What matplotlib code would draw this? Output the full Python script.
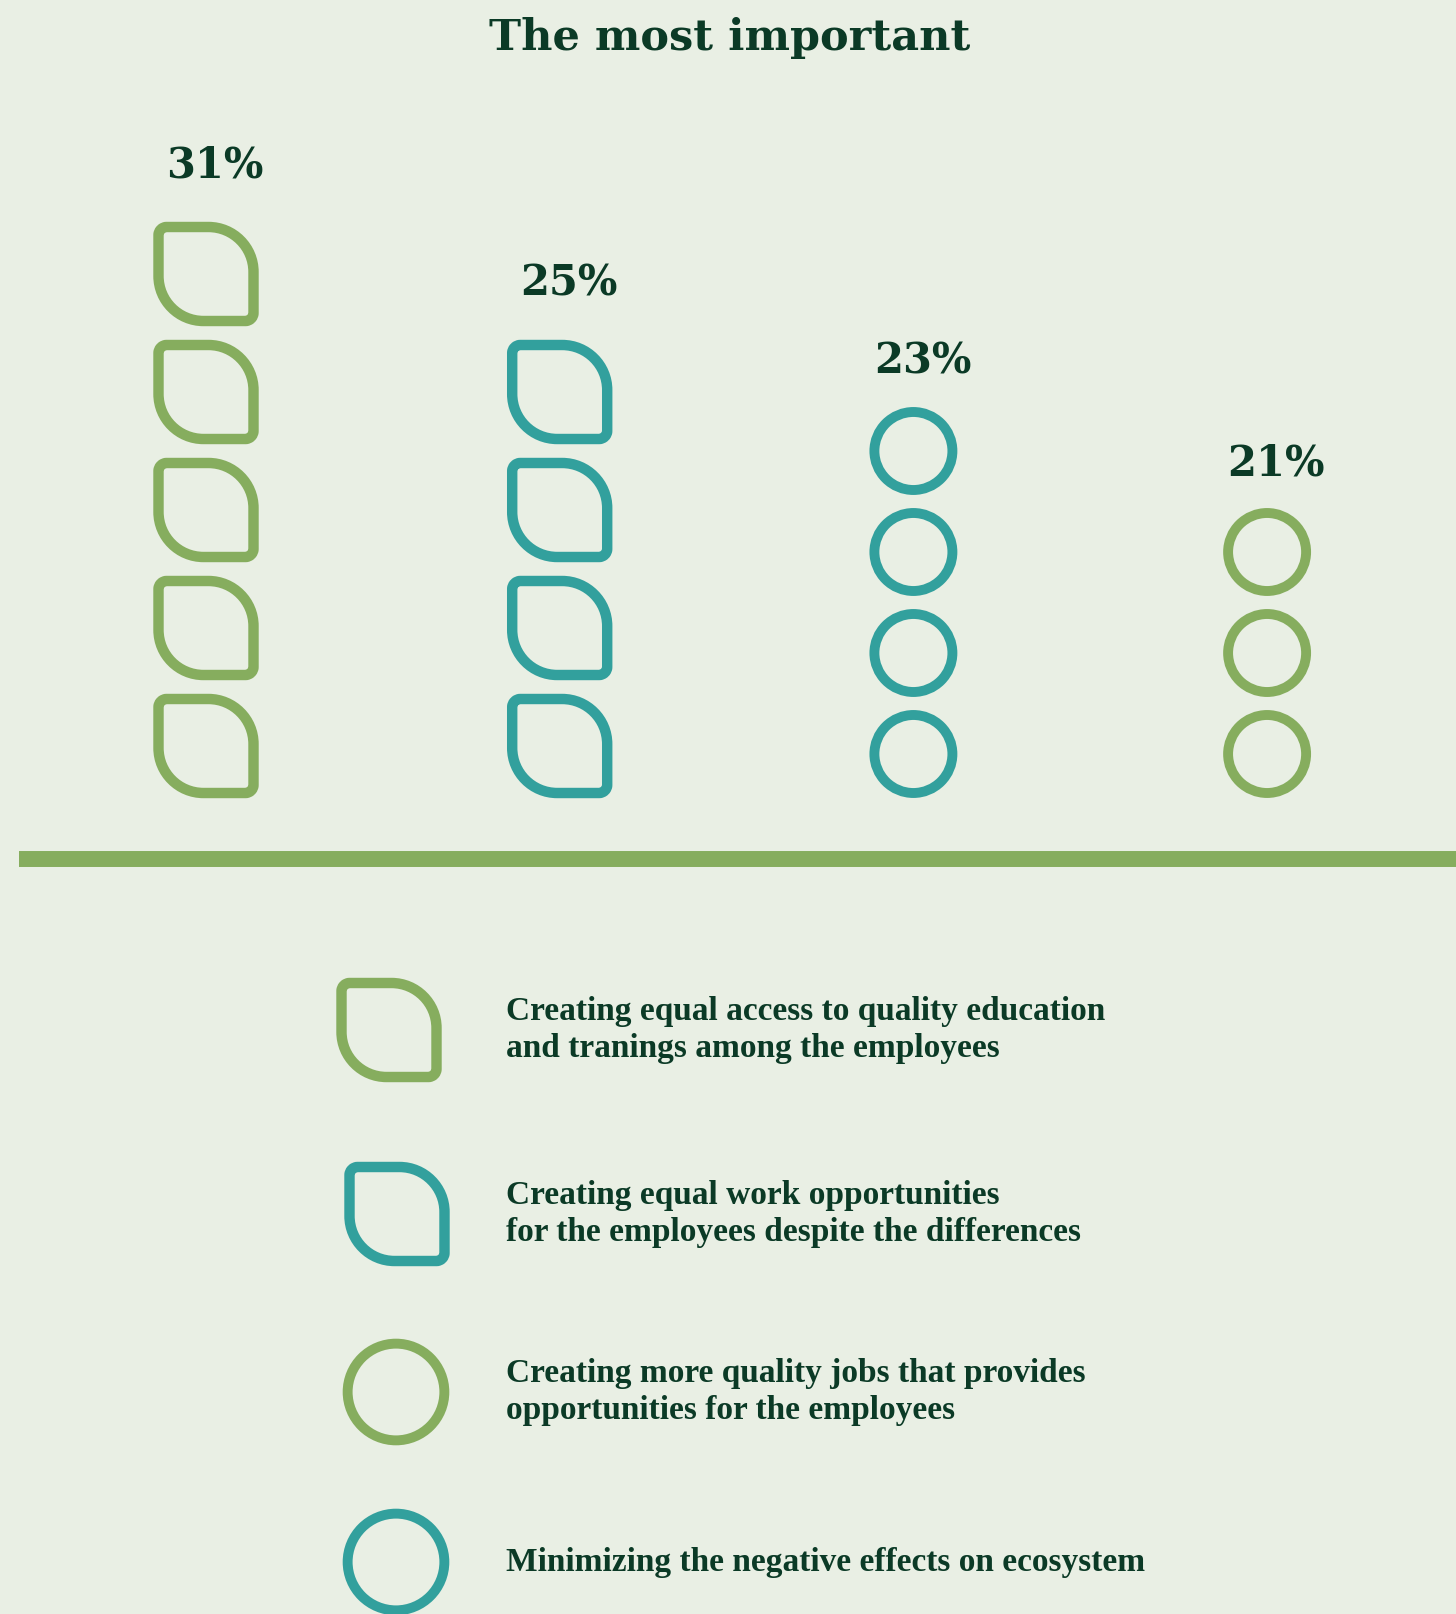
import numpy as np
import matplotlib
matplotlib.use("Agg")
import matplotlib.pyplot as plt
from matplotlib.path import Path
from matplotlib.patches import PathPatch, Circle

# ========================
# DATA
# ========================
title = "The most important"
percent = [31, 25, 23, 21]
icon_count = [5, 4, 4, 3]
shape = ["leaf", "leaf", "circle", "circle"]
colour = ["#86ad5e", "#32a09d", "#32a09d", "#86ad5e"]
legend_labels = [
    "Creating equal access to quality education\nand tranings among the employees",
    "Creating equal work opportunities\nfor the employees despite the differences",
    "Creating more quality jobs that provides\nopportunities for the employees",
    "Minimizing the negative effects on ecosystem",
]
legend_shape = ["leaf", "leaf", "circle", "circle"]
legend_colour = ["#86ad5e", "#32a09d", "#86ad5e", "#32a09d"]

# ========================
# STYLE / LAYOUT
# ========================
W, H = 1456, 1614
bg = "#e9efe4"
ink = "#0b3a26"
lw = 7.5
col_x0, col_step = 206, 353.7
base_y = 798
leaf_size, leaf_pitch = 94, 118
circ_r, circ_pitch = 39, 101
label_gap = {"leaf": 56, "circle": 45}
# legend rows (icon x, row centre y)
leg_x = [389, 397, 396, 396]
leg_y = [1030, 1214, 1392, 1562]
leg_text_x = 506

K = 0.5523


def leaf_path(cx, cy, w, h, rb=45, rs=8):
    x0, x1 = cx - w / 2, cx + w / 2
    y0, y1 = cy - h / 2, cy + h / 2
    verts, codes = [], []

    def arc(p, c, q):
        verts.extend([(p[0] + K * (c[0] - p[0]), p[1] + K * (c[1] - p[1])),
                      (q[0] + K * (c[0] - q[0]), q[1] + K * (c[1] - q[1])),
                      q])
        codes.extend([Path.CURVE4] * 3)

    verts.append((x0 + rs, y0)); codes.append(Path.MOVETO)
    verts.append((x1 - rb, y0)); codes.append(Path.LINETO)
    arc((x1 - rb, y0), (x1, y0), (x1, y0 + rb))
    verts.append((x1, y1 - rs)); codes.append(Path.LINETO)
    arc((x1, y1 - rs), (x1, y1), (x1 - rs, y1))
    verts.append((x0 + rb, y1)); codes.append(Path.LINETO)
    arc((x0 + rb, y1), (x0, y1), (x0, y1 - rb))
    verts.append((x0, y0 + rs)); codes.append(Path.LINETO)
    arc((x0, y0 + rs), (x0, y0), (x0 + rs, y0))
    verts.append((x0 + rs, y0)); codes.append(Path.CLOSEPOLY)
    return Path(verts, codes)


def draw_icon(ax, kind, cx, cy, c, scale=1.0):
    if kind == "leaf":
        s = leaf_size * scale
        ax.add_patch(PathPatch(leaf_path(cx, cy, s + 1, s), fill=False,
                               edgecolor=c, lw=lw, joinstyle="round"))
    else:
        ax.add_patch(Circle((cx, cy), circ_r * scale, fill=False,
                            edgecolor=c, lw=lw * 0.95))


fig = plt.figure(figsize=(W / 100, H / 100), dpi=100, facecolor=bg)
ax = fig.add_axes([0, 0, 1, 1])
ax.set_xlim(0, W)
ax.set_ylim(H, 0)
ax.set_facecolor(bg)
ax.set_axis_off()

ax.text(W / 2 + 2, 38, title, ha="center", va="center", fontsize=31,
        fontweight="bold", family="DejaVu Serif", color=ink)

for i, (p, n, kind, c) in enumerate(zip(percent, icon_count, shape, colour)):
    cx = col_x0 + i * col_step
    if kind == "leaf":
        half = leaf_size / 2 + 5
        pitch = leaf_pitch
    else:
        half = circ_r + 5
        pitch = circ_pitch
    for j in range(n):
        cy = base_y - half - j * pitch
        draw_icon(ax, kind, cx, cy, c)
    top = base_y - 2 * half - (n - 1) * pitch
    ax.text(cx + 9, top - label_gap[kind], f"{p}%", ha="center", va="center",
            fontsize=30, fontweight="bold", family="DejaVu Serif", color=ink)

ax.plot([19, W], [859, 859], color="#86ad5e", lw=11.5, solid_capstyle="butt")

for k, (lab, kind, c) in enumerate(zip(legend_labels, legend_shape, legend_colour)):
    cy = leg_y[k]
    draw_icon(ax, kind, leg_x[k], cy, c, scale=1.0 if kind == "leaf" else 1.24)
    ax.text(leg_text_x, cy, lab, ha="left", va="center", fontsize=24,
            fontweight="bold", family="Liberation Serif", color=ink,
            linespacing=1.22)

fig.savefig("out.png", dpi=100, facecolor=bg)
